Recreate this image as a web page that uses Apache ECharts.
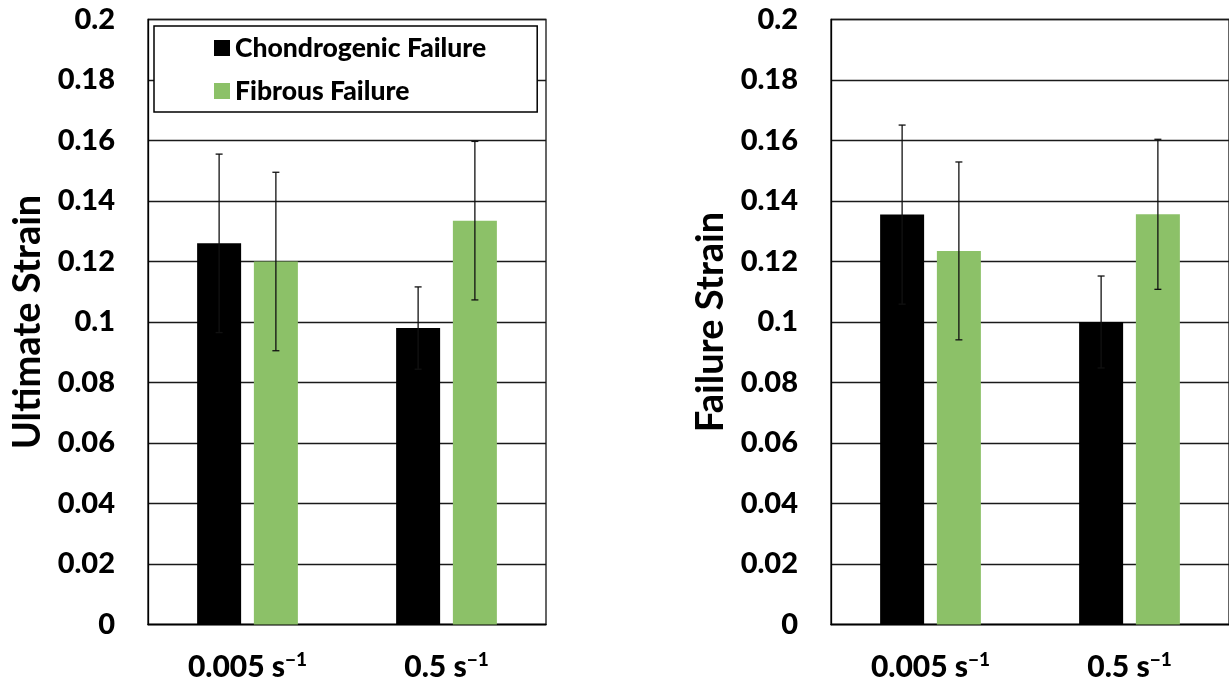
<!DOCTYPE html>
<html>
<head>
<meta charset="utf-8">
<script src="https://cdn.jsdelivr.net/npm/echarts@6/dist/echarts.min.js"></script>
<style>
  html, body { margin: 0; padding: 0; background: #fff; }
  #chart { width: 1229px; height: 685px; }
</style>
</head>
<body>
<div id="chart"></div>
<script>
// Strain-rate groups on the x axis
const categories = ['0.005 s⁻¹', '0.5 s⁻¹'];
const seriesNames = ['Chondrogenic Failure', 'Fibrous Failure'];

// Ultimate strain: means and error half-widths
const ultimateChondro = [0.126, 0.098];
const ultimateChondroErr = [0.0295, 0.0136];
const ultimateFibrous = [0.120, 0.1335];
const ultimateFibrousErr = [0.0295, 0.0262];

// Failure strain: means and error half-widths
const failureChondro = [0.1355, 0.100];
const failureChondroErr = [0.0296, 0.0152];
const failureFibrous = [0.1235, 0.1356];
const failureFibrousErr = [0.0294, 0.0248];

// Value axis range
const yMin = 0;
const yMax = 0.2;
const yStep = 0.02;

const FONT = 'Lato, "Open Sans", "DejaVu Sans", sans-serif';
const BLACK = '#000000';
const GREEN = '#8CC168';
const BAR_WIDTH = 44;
const BAR_GAP = 0.29;

function yAxisFor(gridIndex, title) {
  return {
    type: 'value', gridIndex: gridIndex,
    min: yMin, max: yMax, interval: yStep,
    name: title, nameLocation: 'middle', nameGap: 101,
    nameTextStyle: { fontFamily: FONT, fontWeight: 'bold', fontSize: 38, color: '#000' },
    axisLine: { show: true, lineStyle: { color: '#000', width: 1.3 } },
    axisTick: { show: false },
    axisLabel: {
      margin: 33, fontFamily: FONT, fontWeight: 900, fontSize: 29, color: '#000',
      formatter: v => String(+v.toFixed(2))
    },
    splitLine: { show: true, lineStyle: { color: '#1a1a1a', width: 1.3 } }
  };
}

// Split "0.005 s⁻¹" into the rate and its raised exponent
function rateLabel(text) {
  const m = text.match(/^(.*?)([⁻¹]+)$/);
  if (!m) return '{b|' + text + '}';
  const exp = m[2].replace('⁻', '−').replace('¹', '1');
  return '{b|' + m[1] + '}{sup|' + exp + '}';
}

function xAxisFor(gridIndex) {
  return {
    type: 'category', gridIndex: gridIndex, data: categories,
    axisLine: { show: true, lineStyle: { color: '#000', width: 1.3 } },
    axisTick: { show: false },
    axisLabel: {
      margin: 26, color: '#000',
      formatter: rateLabel,
      rich: {
        b: { fontFamily: FONT, fontWeight: 900, fontSize: 30, color: '#000', lineHeight: 34 },
        sup: { fontFamily: FONT, fontWeight: 900, fontSize: 19, color: '#000', verticalAlign: 'top', lineHeight: 34, padding: [0, 0, 12, 0] }
      }
    }
  };
}

function barSeries(name, data, color, axisIdx) {
  return {
    type: 'bar', name: name, data: data,
    xAxisIndex: axisIdx, yAxisIndex: axisIdx,
    barWidth: BAR_WIDTH, barGap: (BAR_GAP * 100) + '%',
    itemStyle: { color: color },
    z: 2
  };
}

// Error bars sit over the centre of the bar in the given slot (0 = first bar of a group)
function errorSeries(values, errs, slot, axisIdx) {
  return {
    type: 'custom', xAxisIndex: axisIdx, yAxisIndex: axisIdx,
    data: values.map((v, i) => [i, v, errs[i]]),
    encode: { x: 0, y: 1 },
    z: 3, silent: true,
    renderItem: function (params, api) {
      const i = api.value(0), v = api.value(1), e = api.value(2);
      const total = BAR_WIDTH * 2 + BAR_WIDTH * BAR_GAP;
      const offset = -total / 2 + BAR_WIDTH / 2 + slot * (BAR_WIDTH + BAR_WIDTH * BAR_GAP);
      const top = api.coord([i, v + e]);
      const bot = api.coord([i, v - e]);
      const x = top[0] + offset;
      const cap = 3.5;
      const style = { stroke: '#111', lineWidth: 1.3, fill: null };
      return {
        type: 'group',
        children: [
          { type: 'line', shape: { x1: x, y1: top[1], x2: x, y2: bot[1] }, style: style },
          { type: 'line', shape: { x1: x - cap, y1: top[1], x2: x + cap, y2: top[1] }, style: style },
          { type: 'line', shape: { x1: x - cap, y1: bot[1], x2: x + cap, y2: bot[1] }, style: style }
        ]
      };
    }
  };
}

const chart = echarts.init(document.getElementById('chart'), null, { renderer: 'canvas' });

chart.setOption({
  backgroundColor: '#fff',
  animation: false,
  textStyle: { fontFamily: FONT },
  grid: [
    { left: 148, top: 19.5, width: 398, height: 605, show: true, borderColor: '#333', borderWidth: 1.5, backgroundColor: 'transparent' },
    { left: 831, top: 19.5, width: 402, height: 605, show: true, borderColor: '#333', borderWidth: 1.5, backgroundColor: 'transparent' }
  ],
  legend: {
    data: seriesNames,
    orient: 'vertical', left: 154, top: 26,
    icon: 'rect', itemWidth: 16, itemHeight: 16, itemGap: 13,
    itemStyle: { borderWidth: 0 },
    padding: [7, 51, 6, 60],
    borderColor: '#000', borderWidth: 1.5, backgroundColor: '#fff',
    textStyle: { fontFamily: FONT, fontWeight: 900, fontSize: 26.5, color: '#000', lineHeight: 30 },
    selectedMode: false
  },
  xAxis: [xAxisFor(0), xAxisFor(1)],
  yAxis: [yAxisFor(0, 'Ultimate Strain'), yAxisFor(1, 'Failure Strain')],
  series: [
    barSeries(seriesNames[0], ultimateChondro, BLACK, 0),
    barSeries(seriesNames[1], ultimateFibrous, GREEN, 0),
    barSeries(seriesNames[0], failureChondro, BLACK, 1),
    barSeries(seriesNames[1], failureFibrous, GREEN, 1),
    errorSeries(ultimateChondro, ultimateChondroErr, 0, 0),
    errorSeries(ultimateFibrous, ultimateFibrousErr, 1, 0),
    errorSeries(failureChondro, failureChondroErr, 0, 1),
    errorSeries(failureFibrous, failureFibrousErr, 1, 1)
  ]
});
</script>
</body>
</html>
